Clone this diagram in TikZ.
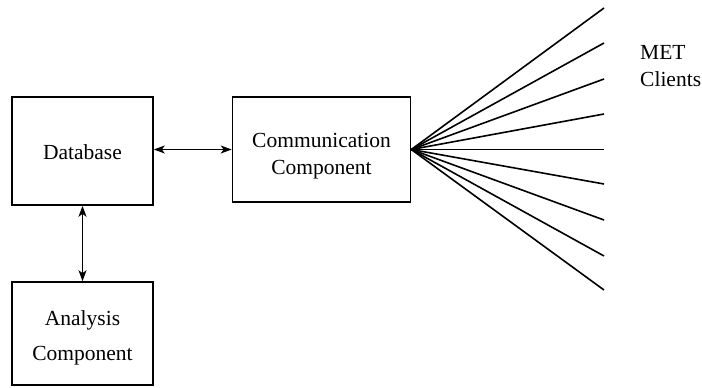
\documentclass[tikz,border=0pt]{standalone}
\usepackage{fontspec}
\setmainfont{Liberation Serif}
\usetikzlibrary{arrows.meta}
\begin{document}
\begin{tikzpicture}[x=1pt,y=-1pt,
  box/.style={draw,line width=1.6pt,inner sep=0pt},
  txt/.style={align=center,inner sep=0pt,font=\fontsize{21.5}{27}\selectfont},
  conn/.style={line width=1.5pt,{Stealth[length=11pt,width=8pt,inset=3pt]}-{Stealth[length=11pt,width=8pt,inset=3pt]}},
  fan/.style={line width=1.6pt},
  lbl/.style={align=left,anchor=west,inner sep=0pt,font=\fontsize{21.5}{27}\selectfont}]
\useasboundingbox (0,0) rectangle (702,388);
\node[box,minimum width=141pt,minimum height=108pt] (db) at (82.5,151) {};
\node[txt] (dbt) at ([yshift=-1pt]db.center) {Database};
\node[box,minimum width=178pt,minimum height=105pt] (cc) at (321.5,149.5) {};
\node[txt] (cct) at ([yshift=-7pt]cc.center) {Communication\\Component};
\node[box,minimum width=141pt,minimum height=103pt] (an) at (82.5,333.5) {};
\node[txt] (ant) at ([yshift=-4pt]an.center) {Analysis\\[8pt]Component};
\draw[conn] (db.east |- cc.east) -- (cc.east -| cc.west);
\draw[conn] (db.south -| an.north) -- (an.north);
\coordinate (o) at (cc.east);
\foreach \i/\y in {1/8,2/43,3/79,4/114,5/149.5,6/184,7/220,8/256,9/290}{
  \coordinate (c\i) at (604,\y);
  \draw[fan] (o) -- (c\i);
}
\node[lbl] (met) at (640,66) {MET\\Clients};
\end{tikzpicture}
\end{document}
